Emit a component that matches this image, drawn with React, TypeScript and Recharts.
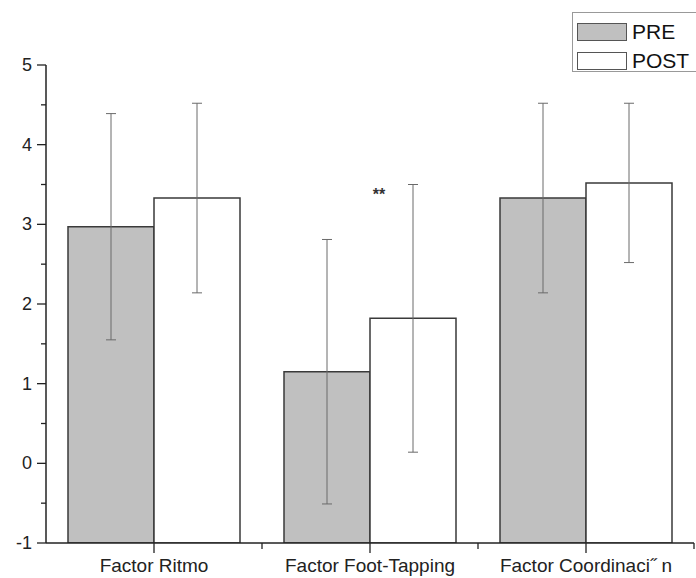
import { BarChart, Bar, XAxis, YAxis, ErrorBar, ReferenceDot } from 'recharts';

const categories = ['Factor Ritmo', 'Factor Foot-Tapping', 'Factor Coordinaci\u02dd n'];
const seriesNames = ['PRE', 'POST'];
const preValues = [2.97, 1.15, 3.33];
const preErrors = [1.42, 1.66, 1.19];
const postValues = [3.33, 1.82, 3.52];
const postErrors = [1.19, 1.68, 1.0];
const yTicks = [-1, -0.5, 0, 0.5, 1, 1.5, 2, 2.5, 3, 3.5, 4, 4.5, 5];
const sigCategory = 'Factor Foot-Tapping';
const sigY = 3.38;
const sigLabel = '**';

const Y_MIN = -1;
const Y_MAX = 5;

const data = categories.map((name, i) => ({
  name,
  pre: preValues[i],
  preErr: preErrors[i],
  post: postValues[i],
  postErr: postErrors[i],
}));

const FONT = 'Liberation Sans, Arial, sans-serif';
const AXIS = '#222';
const FILLS = ['#c0c0c0', '#ffffff'];

const TICK_SIZE = 8;
const TICK_MARGIN = 6;

// integer ticks get a label, half ticks are short and blank
function YTick(props: any) {
  const { x, y, payload } = props;
  const axisX = x + TICK_SIZE + TICK_MARGIN;
  const major = Number.isInteger(payload.value);
  return (
    <g>
      <line x1={axisX - (major ? 9 : 5)} x2={axisX} y1={y} y2={y} stroke={AXIS} strokeWidth={1.3} />
      {major && (
        <text x={axisX - 14} y={y} dy={6} textAnchor="end" fill="#222" fontSize={18} fontFamily={FONT}>
          {payload.value}
        </text>
      )}
    </g>
  );
}

function XTick(props: any) {
  const { x, y, payload, width } = props;
  const axisY = y - TICK_SIZE - TICK_MARGIN;
  const half = width / categories.length / 2;
  return (
    <g>
      <line x1={x} x2={x} y1={axisY} y2={axisY + 10} stroke={AXIS} strokeWidth={1.3} />
      <line x1={x + half} x2={x + half} y1={axisY} y2={axisY + 6} stroke={AXIS} strokeWidth={1.3} />
      <text x={x} y={axisY + 29} textAnchor="middle" fill="#222" fontSize={19} fontFamily={FONT}>
        {payload.value}
      </text>
    </g>
  );
}

export default function App() {
  return (
    <div style={{ position: 'absolute', left: 0, top: 0, width: 696, height: 578, background: '#fff', overflow: 'hidden' }}>
      <BarChart
        width={696}
        height={578}
        data={data}
        margin={{ top: 65, right: 2, left: 0, bottom: 0 }}
        barGap={0}
        barSize={86}
      >
        <XAxis
          dataKey="name"
          height={35}
          tickLine={false}
          tickSize={TICK_SIZE}
          tickMargin={TICK_MARGIN}
          axisLine={{ stroke: AXIS, strokeWidth: 1.5 }}
          tick={<XTick />}
          interval={0}
        />
        <YAxis
          type="number"
          domain={[Y_MIN, Y_MAX]}
          ticks={yTicks}
          interval={0}
          width={46}
          tickLine={false}
          tickSize={TICK_SIZE}
          tickMargin={TICK_MARGIN}
          axisLine={{ stroke: AXIS, strokeWidth: 1.5 }}
          tick={<YTick />}
          allowDataOverflow
        />
        <Bar
          dataKey={(d: any) => [Y_MIN, d.pre]}
          name={seriesNames[0]}
          fill={FILLS[0]}
          stroke="#3a3a3a"
          strokeWidth={1.5}
          isAnimationActive={false}
        >
          <ErrorBar dataKey="preErr" width={5} stroke="#6a6a6a" strokeWidth={1} />
        </Bar>
        <Bar
          dataKey={(d: any) => [Y_MIN, d.post]}
          name={seriesNames[1]}
          fill={FILLS[1]}
          stroke="#3a3a3a"
          strokeWidth={1.5}
          isAnimationActive={false}
        >
          <ErrorBar dataKey="postErr" width={5} stroke="#6a6a6a" strokeWidth={1} />
        </Bar>
        <ReferenceDot
          x={sigCategory}
          y={sigY}
          r={0}
          stroke="none"
          label={{ value: sigLabel, position: 'center', dx: 9, fill: '#333', fontSize: 16, fontWeight: 'bold', fontFamily: FONT }}
        />
      </BarChart>
      <div
        style={{
          position: 'absolute',
          left: 572,
          top: 12,
          width: 140,
          height: 60,
          border: '1px solid #999',
          background: '#fff',
          boxSizing: 'border-box',
          padding: '4px 0 0 4px',
          fontFamily: FONT,
        }}
      >
        {seriesNames.map((name, i) => (
          <div key={name} style={{ display: 'flex', alignItems: 'center', height: 29 }}>
            <div
              style={{
                width: 50,
                height: 18,
                boxSizing: 'border-box',
                background: FILLS[i],
                border: '1.5px solid #555',
                marginRight: 5,
              }}
            />
            <span style={{ fontSize: 21, color: '#111' }}>{name}</span>
          </div>
        ))}
      </div>
    </div>
  );
}
